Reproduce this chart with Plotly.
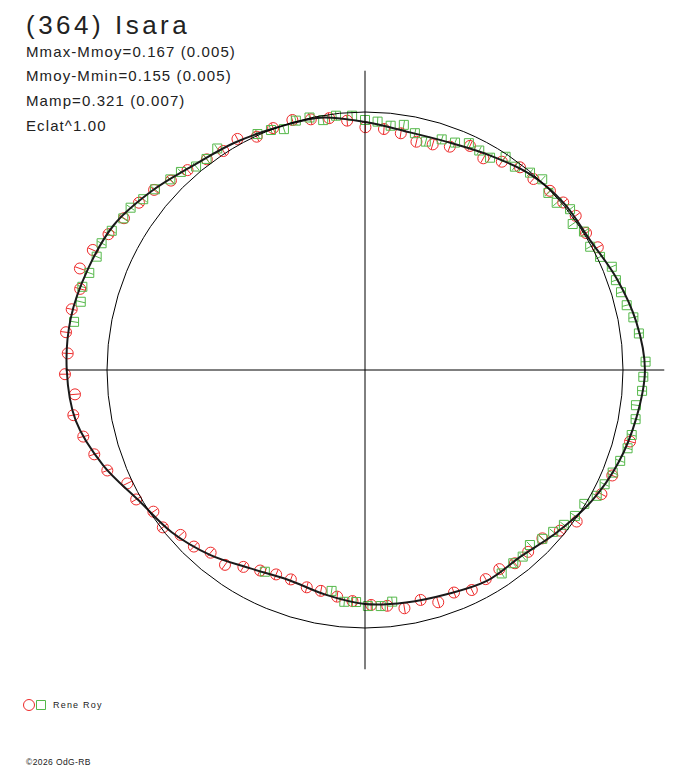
"""Polar lightcurve of (364) Isara: flux vs rotational phase, one observer."""
import numpy as np
import plotly.graph_objects as go

TITLE = "(364) Isara"
STATS = [
    "Mmax-Mmoy=0.167 (0.005)",
    "Mmoy-Mmin=0.155 (0.005)",
    "Mamp=0.321 (0.007)",
    "Eclat^1.00",
]
OBSERVER = "Rene Roy"
CREDIT = "©2026 OdG-RB"

# Fourier fit, phase in degrees (clockwise from top), flux relative to mean
fit_phase = [0, 10, 20, 30, 40, 50, 60, 70, 80, 90, 100, 110, 120, 130, 140, 150, 160, 170,
             180, 190, 200, 210, 220, 230, 240, 250, 260, 270, 280, 290, 300, 310, 320, 330, 340, 350]
fit_flux = [0.961, 0.938, 0.940, 0.962, 0.992, 1.006, 1.007, 1.038, 1.068, 1.085, 1.068, 1.046,
            1.015, 0.975, 0.942, 0.944, 0.925, 0.915, 0.907, 0.884, 0.866, 0.888, 0.935, 0.978,
            1.012, 1.080, 1.138, 1.156, 1.158, 1.143, 1.124, 1.079, 1.035, 1.016, 1.000, 0.993]

# session 1 (red circles)
red_phase = [331.1, 327.1, 323.1, 318.4, 314.3, 310.5, 306.5, 302.2, 297.9, 293.8,
             289.6, 285.9, 281.7, 277.2, 273.2, 269.2, 265.2, 261.2, 256.7, 252.7,
             248.7, 244.5, 240.5, 236.2, 232.1, 228.2, 224.1, 220.2, 215.7, 211.7,
             207.6, 203.5, 199.5, 195.0, 191.3, 187.0, 183.1, 178.5, 174.6, 170.6,
             166.4, 162.5, 158.2, 154.1, 150.0, 146.0, 142.2, 138.1, 133.5, 129.5,
             125.6, 117.7, 113.1, 105.1,
             62.2, 58.2, 53.8, 49.8, 45.9, 41.4, 37.4, 33.3, 29.2, 25.1,
             20.8, 16.7, 12.7, 8.6, 4.5, 0.1, 355.9, 351.9, 347.8, 343.8, 339.2, 335.1]
red_flux = [1.023, 1.011, 1.021, 1.036, 1.051, 1.075, 1.090, 1.104, 1.125, 1.153,
            1.173, 1.148, 1.161, 1.168, 1.154, 1.163, 1.128, 1.144, 1.122, 1.099,
            1.072, 1.021, 1.019, 0.987, 0.993, 0.959, 0.953, 0.927, 0.930, 0.897,
            0.877, 0.864, 0.861, 0.872, 0.873, 0.885, 0.897, 0.911, 0.918, 0.936,
            0.917, 0.944, 0.929, 0.948, 0.936, 0.931, 0.948, 0.947, 0.948, 0.979,
            1.009, 1.035, 1.042, 1.064,
            1.020, 1.008, 1.012, 1.006, 0.998, 0.987, 0.989, 0.966, 0.940, 0.959,
            0.926, 0.913, 0.907, 0.928, 0.937, 0.941, 0.969, 0.986, 0.994, 1.009, 1.003, 0.997]

# session 2 (green squares)
green_phase = [335.5, 338.6, 341.4, 344.5, 347.6, 350.5, 353.5, 357.1, 0.0, 2.9,
               6.0, 9.0, 11.9, 14.9, 18.4, 21.6, 24.6, 27.5, 30.5, 33.4,
               36.4, 39.9, 42.9, 46.0, 48.9, 51.9, 54.9, 57.7, 61.3, 64.3,
               67.3, 70.3, 73.1, 76.1, 78.9, 82.4, 88.3, 91.4, 94.3, 97.4,
               100.3, 103.7, 106.6, 109.6, 112.5, 115.5, 118.5, 121.4, 124.8, 127.9,
               130.7, 133.6, 136.7, 139.8, 142.5, 146.1,
               173.3, 176.2, 179.3, 182.2, 185.1, 188.6, 206.4,
               286.4, 283.5, 279.4, 289.4, 292.9, 295.7, 298.8, 302.1, 304.7, 307.6,
               310.7, 314.4, 317.1, 320.3, 323.1, 326.3]
green_flux = [1.005, 0.999, 0.985, 1.003, 1.002, 0.982, 0.992, 0.987, 0.969, 0.964,
              0.952, 0.962, 0.938, 0.916, 0.942, 0.948, 0.967, 0.959, 0.955, 0.990,
              0.979, 0.997, 1.009, 0.988, 0.986, 1.010, 0.984, 1.004, 0.995, 1.011,
              1.037, 1.033, 1.037, 1.045, 1.060, 1.071, 1.088, 1.079, 1.077, 1.059,
              1.066, 1.064, 1.062, 1.050, 1.039, 1.029, 1.022, 0.996, 0.991, 0.977,
              0.962, 0.949, 0.932, 0.947, 0.944, 0.950,
              0.904, 0.917, 0.915, 0.900, 0.902, 0.866, 0.873,
              1.142, 1.133, 1.143, 1.133, 1.129, 1.133, 1.120, 1.106, 1.105, 1.085,
              1.074, 1.056, 1.048, 1.025, 1.023, 1.032]

RED_ERR = 0.020
GREEN_ERR = 0.018

RED = "#ee2a2a"
GREEN = "#55b84a"
W, H = 688, 768
PAGE = 8                            # default body margin of the html page
CX, CY, SCALE = 365 - PAGE, 370 - PAGE, 258   # centre (figure px) and px per flux unit
AXIS_HALF = 1.16


def to_xy(phase, flux):
    t = np.radians(np.asarray(phase, dtype=float))
    f = np.asarray(flux, dtype=float)
    return f * np.sin(t), f * np.cos(t)


def err_segments(phase, flux, err):
    xs, ys = [], []
    for p, f in zip(phase, flux):
        x, y = to_xy([p, p], [f - err, f + err])
        xs += list(x) + [None]
        ys += list(y) + [None]
    return xs, ys


def px(x, y):
    # page pixel position -> data units (for legend swatches)
    return (x - PAGE - CX) / SCALE, (CY - (y - PAGE)) / SCALE


def py(y):
    # page pixel row -> paper fraction
    return 1 - (y - PAGE) / H


fig = go.Figure()

for phase, flux, err, col in [(red_phase, red_flux, RED_ERR, RED),
                              (green_phase, green_flux, GREEN_ERR, GREEN)]:
    ex, ey = err_segments(phase, flux, err)
    fig.add_scatter(x=ex, y=ey, mode="lines", line=dict(color=col, width=1),
                    hoverinfo="skip", showlegend=False)

rx, ry = to_xy(red_phase, red_flux)
fig.add_scatter(x=rx, y=ry, mode="markers", showlegend=False,
                marker=dict(symbol="circle-open", size=11, color=RED, line=dict(width=1)))
gx, gy = to_xy(green_phase, green_flux)
fig.add_scatter(x=gx, y=gy, mode="markers", showlegend=False,
                marker=dict(symbol="square-open", size=9, color=GREEN, line=dict(width=1)))

fx, fy = to_xy(fit_phase + fit_phase[:1], fit_flux + fit_flux[:1])
fig.add_scatter(x=fx, y=fy, mode="lines", line=dict(color="#1a1a1a", width=2, shape="spline"),
                showlegend=False)

# legend swatches
lx0, ly0 = px(29, 705)
lx1, _ = px(41, 705)
fig.add_scatter(x=[lx0], y=[ly0], mode="markers", showlegend=False,
                marker=dict(symbol="circle-open", size=11, color=RED, line=dict(width=1)))
fig.add_scatter(x=[lx1], y=[ly0], mode="markers", showlegend=False,
                marker=dict(symbol="square-open", size=9, color=GREEN, line=dict(width=1)))

shapes = [
    dict(type="circle", xref="x", yref="y", x0=-1, y0=-1, x1=1, y1=1,
         line=dict(color="black", width=1)),
    dict(type="line", xref="x", yref="y", x0=-AXIS_HALF, y0=0, x1=AXIS_HALF, y1=0,
         line=dict(color="black", width=1)),
    dict(type="line", xref="x", yref="y", x0=0, y0=-AXIS_HALF, x1=0, y1=AXIS_HALF,
         line=dict(color="black", width=1)),
]

FONT = "Arial, Liberation Sans, sans-serif"
TX = (24 - PAGE) / W
ann = [dict(text=f'<span style="letter-spacing:3.5px">{TITLE}</span>', x=TX, y=py(24.5),
            font=dict(size=26, color="#222222", family=FONT))]
for i, s in enumerate(STATS):
    ann.append(dict(text=f'<span style="letter-spacing:1.1px">{s}</span>', x=TX,
                    y=py(51.5 + 24.5 * i), font=dict(size=15, color="#222222", family=FONT)))
ann.append(dict(text=f'<span style="letter-spacing:1.2px">{OBSERVER}</span>', x=(51 - PAGE) / W,
                y=py(705), font=dict(size=9, color="#222222", family=FONT)))
ann.append(dict(text=f'<span style="letter-spacing:0.4px">{CREDIT}</span>', x=TX, y=py(762),
                font=dict(size=8.5, color="#222222", family=FONT)))
for a in ann:
    a.update(xref="paper", yref="paper", xanchor="left", yanchor="middle", showarrow=False)

fig.update_layout(
    width=W, height=H, margin=dict(l=0, r=0, t=0, b=0),
    paper_bgcolor="white", plot_bgcolor="white",
    xaxis=dict(range=[-CX / SCALE, (W - CX) / SCALE], visible=False, fixedrange=True),
    yaxis=dict(range=[-(H - CY) / SCALE, CY / SCALE], visible=False, fixedrange=True),
    shapes=shapes, annotations=ann, showlegend=False,
)

fig.write_html("out.html")
